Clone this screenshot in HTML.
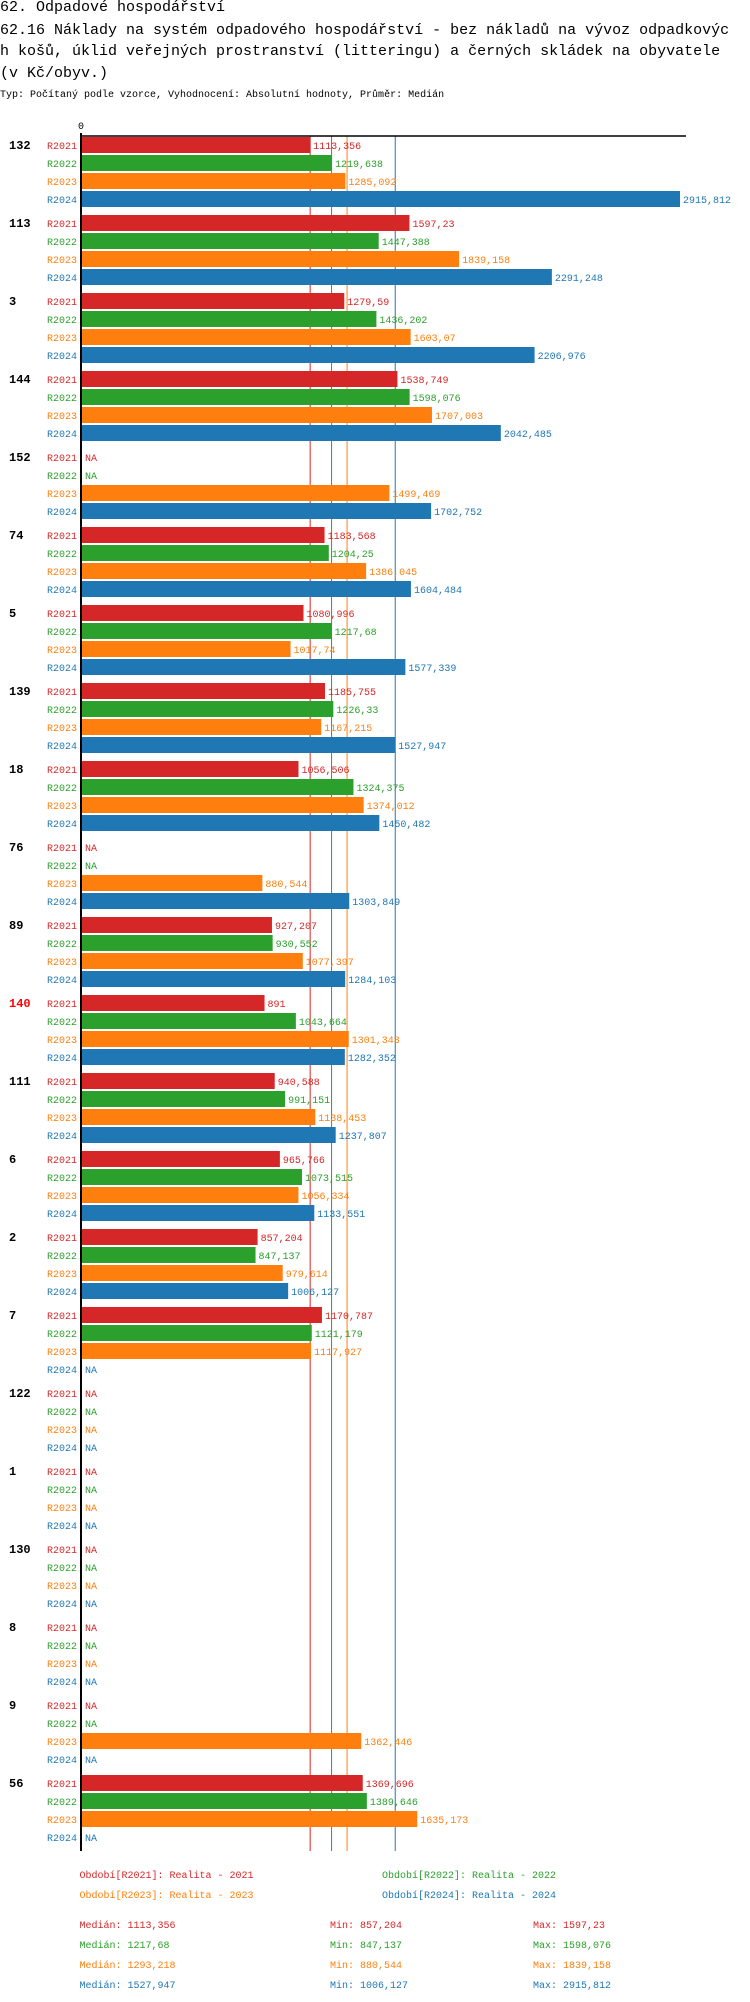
<!DOCTYPE html>
<html><head><meta charset="utf-8">
<style>
body{margin:0;background:#fff;width:750px;height:2002px;overflow:hidden;font-family:"Liberation Mono","DejaVu Sans Mono",monospace;}
.t{position:absolute;left:0;font-size:15px;color:#000;white-space:nowrap;line-height:22px}
</style></head><body>
<div class="t" style="top:-3px">62. Odpadové hospodářství</div>
<div class="t" style="top:20px">62.16 Náklady na systém odpadového hospodářství - bez nákladů na vývoz odpadkovýc</div>
<div class="t" style="top:41px">h košů, úklid veřejných prostranství (litteringu) a černých skládek na obyvatele</div>
<div class="t" style="top:63px">(v Kč/obyv.)</div>
<div class="t" style="top:89px;font-size:10px;line-height:14px">Typ: Počítaný podle vzorce, Vyhodnocení: Absolutní hodnoty, Průměr: Medián</div>
<svg id="chart" width="750" height="2002" style="position:absolute;left:0;top:0" font-family="Liberation Mono, DejaVu Sans Mono, monospace"></svg>
<script>
const groups=["132","113","3","144","152","74","5","139","18","76","89","140","111","6","2","7","122","1","130","8","9","56"];
const series=["R2021","R2022","R2023","R2024"];
const legendNames=["Období[R2021]: Realita - 2021","Období[R2022]: Realita - 2022","Období[R2023]: Realita - 2023","Období[R2024]: Realita - 2024"];
const v2021=[1113.356,1597.23,1279.59,1538.749,null,1183.568,1080.996,1185.755,1056.506,null,927.207,891,940.588,965.766,857.204,1170.787,null,null,null,null,null,1369.696];
const v2022=[1219.638,1447.388,1436.202,1598.076,null,1204.25,1217.68,1226.33,1324.375,null,930.552,1043.664,991.151,1073.515,847.137,1121.179,null,null,null,null,null,1389.646];
const v2023=[1285.092,1839.158,1603.07,1707.003,1499.469,1386.045,1017.74,1167.215,1374.012,880.544,1077.397,1301.343,1138.453,1056.334,979.614,1117.927,null,null,null,null,1362.446,1635.173];
const v2024=[2915.812,2291.248,2206.976,2042.485,1702.752,1604.484,1577.339,1527.947,1450.482,1303.849,1284.103,1282.352,1237.807,1133.551,1006.127,null,null,null,null,null,null,null];
const medians=[1113.356,1217.68,1293.218,1527.947];
const mins=[857.204,847.137,880.544,1006.127];
const maxs=[1597.23,1598.076,1839.158,2915.812];
const highlightGroup="140";
const colors=["#d62728","#2ca02c","#ff7f0e","#1f77b4"];
const vals=[v2021,v2022,v2023,v2024];
const X0=81.7,K=0.2052,TOP=137,GP=78,BP=18,BH=16;
const x=v=>X0+v*K;
const fmt=v=>String(v).replace('.',',');
const svg=document.getElementById('chart');
const NS='http://www.w3.org/2000/svg';
function mk(tag,a,txt){const e=document.createElementNS(NS,tag);for(const k in a)e.setAttribute(k,a[k]);if(txt!==undefined)e.textContent=txt;svg.appendChild(e);return e;}
const bottom=TOP+groups.length*GP-2;
// median lines
medians.forEach((m,i)=>{const e=mk('line',{x1:x(m),x2:x(m),y1:TOP-1,y2:bottom,stroke:colors[i],'stroke-width':1});

});
groups.forEach((g,gi)=>{
  const gy=TOP+gi*GP;
  const gl=mk('text',{x:9,y:gy+12,'font-size':12,'font-weight':'bold',fill:g===highlightGroup?'#ff0000':'#000'},g);
  
  
  series.forEach((s,si)=>{
    const y=gy+si*BP;const v=vals[si][gi];
    const sl=mk('text',{x:77,y:y+12,'font-size':10,'text-anchor':'end',fill:colors[si]},s);
    
    
    if(v!==null){
      const r=mk('rect',{x:X0,y:y,width:v*K,height:BH,fill:colors[si]});
      
      
    }
    const vl=mk('text',{x:v===null?85:x(v)+3,y:y+12,'font-size':10,fill:colors[si]},v===null?'NA':fmt(v));
    
    
  });
});
const ax=mk('line',{x1:80,x2:686,y1:136,y2:136,stroke:'#000','stroke-width':1.5});


const ay=mk('line',{x1:81,x2:81,y1:133,y2:bottom,stroke:'#000','stroke-width':2});


const z=mk('text',{x:81,y:129,'font-size':10,'text-anchor':'middle',fill:'#000'},'0');


legendNames.forEach((n,i)=>{
  const lg=mk('text',{x:i%2?382:79.5,y:1878+Math.floor(i/2)*20,'font-size':10,fill:colors[i]},n);
  
  
});
series.forEach((s,i)=>{
  const y=1928+i*20;
  const a=mk('text',{x:79.5,y:y,'font-size':10,fill:colors[i]},'Medián: '+fmt(medians[i]));
  
  
  const b=mk('text',{x:330,y:y,'font-size':10,fill:colors[i]},'Min: '+fmt(mins[i]));
  
  
  const c=mk('text',{x:533,y:y,'font-size':10,fill:colors[i]},'Max: '+fmt(maxs[i]));
  
  
});
</script>
</body></html>
